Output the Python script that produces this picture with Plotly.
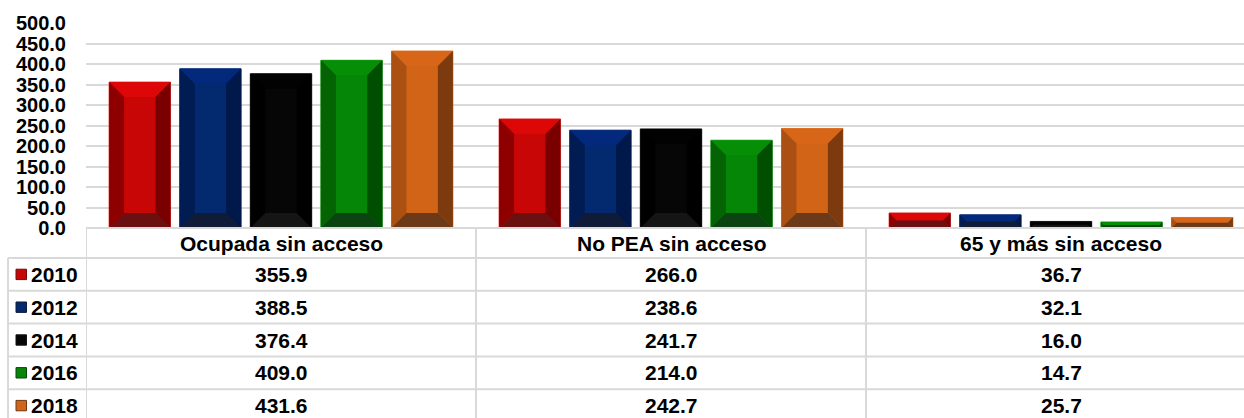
import plotly.graph_objects as go

categories = ["Ocupada sin acceso", "No PEA sin acceso", "65 y más sin acceso"]
years = ["2010", "2012", "2014", "2016", "2018"]
v2010 = [355.9, 266.0, 36.7]
v2012 = [388.5, 238.6, 32.1]
v2014 = [376.4, 241.7, 16.0]
v2016 = [409.0, 214.0, 14.7]
v2018 = [431.6, 242.7, 25.7]
series = [v2010, v2012, v2014, v2016, v2018]
tick_vals = [0, 50, 100, 150, 200, 250, 300, 350, 400, 450, 500]
tick_text = [f"{t:.1f}" for t in tick_vals]

# face, top, left, right, bottom, outline
palette = {
    "2010": ["#C90606", "#DE0707", "#8E0000", "#7A0000", "#6A1010", "#E23A3A"],
    "2012": ["#032A6E", "#03297C", "#001C52", "#00184A", "#101B38", "#1A3C82"],
    "2014": ["#060606", "#020202", "#000000", "#000000", "#151515", "#2A2A2A"],
    "2016": ["#068606", "#078E07", "#046404", "#004E00", "#0B4410", "#2A9A2A"],
    "2018": ["#D26418", "#D86618", "#AA5012", "#7C3A0E", "#6C3A18", "#E07A30"],
}

W, H = 1244, 418
ML, MT, MB = 86, 23, 190
BARGAP, GROUPGAP = 0.095, 0.13
XR = [-0.5, -0.5 + (W - ML) / 390]
YR = [0, 500]
px_x = (W - ML) / (XR[1] - XR[0])
px_y = (H - MT - MB) / (YR[1] - YR[0])
BEVEL = 15
GRID = "#D9D9D9"
FONT = "Liberation Sans, Arial, sans-serif"

fig = go.Figure()

slot = (1 - BARGAP) / len(years)
bw = slot * (1 - GROUPGAP)
for j, (yr, vals) in enumerate(zip(years, series)):
    face, top, left, right, bottom, edge = palette[yr]
    fig.add_trace(go.Bar(x=list(range(len(categories))), y=vals, name=yr,
                         marker=dict(color=face, line=dict(color=edge, width=1)),
                         hoverinfo="skip"))
    polys = {"top": ([], []), "left": ([], []), "right": ([], []), "bottom": ([], [])}
    for i, v in enumerate(vals):
        c = i - (1 - BARGAP) / 2 + slot * (j + 0.5)
        x0, x1 = c - bw / 2, c + bw / 2
        d = min(BEVEL, v * px_y / 2)
        dx, dy = d / px_x, d / px_y
        shapes = {
            "top": [(x0, v), (x1, v), (x1 - dx, v - dy), (x0 + dx, v - dy)],
            "bottom": [(x0, 0), (x1, 0), (x1 - dx, dy), (x0 + dx, dy)],
            "left": [(x0, 0), (x0, v), (x0 + dx, v - dy), (x0 + dx, dy)],
            "right": [(x1, 0), (x1, v), (x1 - dx, v - dy), (x1 - dx, dy)],
        }
        for k, pts in shapes.items():
            xs, ys = polys[k]
            xs += [p[0] for p in pts] + [pts[0][0], None]
            ys += [p[1] for p in pts] + [pts[0][1], None]
    for k, col in zip(["top", "left", "right", "bottom"], [top, left, right, bottom]):
        fig.add_trace(go.Scatter(x=polys[k][0], y=polys[k][1], mode="lines",
                                 fill="toself", fillcolor=col, line=dict(width=0),
                                 hoverinfo="skip", showlegend=False))

# data table under the chart
def py(p):
    return (H - MB - p) / (H - MT - MB)

def pxp(p):
    return (p - ML) / (W - ML)

head_h, row_h = 30, 32.8
table_top = H - MB
left_x = 8
shapes = []
line = dict(color=GRID, width=2)
shapes.append(dict(type="line", xref="paper", yref="paper", x0=0, x1=1,
                   y0=py(table_top), y1=py(table_top), line=line))
for b in [XR[0], 0.5, 1.5]:
    shapes.append(dict(type="line", xref="x", yref="paper", x0=b, x1=b,
                       y0=py(table_top), y1=py(H + 2), line=line))
shapes.append(dict(type="line", xref="paper", yref="paper", x0=pxp(left_x), x1=pxp(left_x),
                   y0=py(table_top + head_h), y1=py(H + 2), line=line))
for r in range(len(years)):
    yy = py(table_top + head_h + r * row_h)
    shapes.append(dict(type="line", xref="paper", yref="paper", x0=pxp(left_x), x1=1,
                       y0=yy, y1=yy, line=line))

annotations = []
tfont = dict(family=FONT, size=21, color="#000000", weight="bold")
for i, cat in enumerate(categories):
    annotations.append(dict(x=i, xref="x", y=py(table_top + head_h / 2), yref="paper",
                            text=cat, showarrow=False, font=tfont, yanchor="middle"))
for r, (yr, vals) in enumerate(zip(years, series)):
    yc = py(table_top + head_h + (r + 0.5) * row_h)
    for i, v in enumerate(vals):
        annotations.append(dict(x=i, xref="x", y=yc, yref="paper", text=f"{v:.1f}",
                                showarrow=False, font=tfont, yanchor="middle"))
    annotations.append(dict(x=pxp(29), xref="paper", y=yc, yref="paper", text=yr,
                            showarrow=False, font=tfont, xanchor="left", yanchor="middle"))
    face, top, left, right, bottom, edge = palette[yr]
    shapes.append(dict(type="rect", xref="paper", yref="paper",
                       x0=pxp(16), x1=pxp(26.5), y0=yc - 5.2 / (H - MT - MB),
                       y1=yc + 5.2 / (H - MT - MB), fillcolor=face,
                       line=dict(color=bottom, width=1)))

fig.update_layout(
    width=W, height=H,
    margin=dict(l=ML, r=0, t=MT, b=MB, pad=0),
    barmode="group", bargap=BARGAP, bargroupgap=GROUPGAP,
    plot_bgcolor="white", paper_bgcolor="white",
    showlegend=False,
    shapes=shapes, annotations=annotations,
    font=dict(family=FONT),
)
fig.update_xaxes(range=XR, showticklabels=False, showgrid=False, zeroline=False,
                 showline=False, fixedrange=True)
fig.update_yaxes(range=YR, tickvals=tick_vals, ticktext=tick_text, showgrid=True,
                 gridcolor=GRID, gridwidth=2, zeroline=False, showline=False,
                 tickfont=dict(family=FONT, size=20, color="#000000", weight="bold"),
                 ticklabelstandoff=19, fixedrange=True)

# the page's default body margin would push the figure off by 8px
fig.write_html("out.html", config={"displayModeBar": False},
               post_script="document.body.style.margin = '0';")
